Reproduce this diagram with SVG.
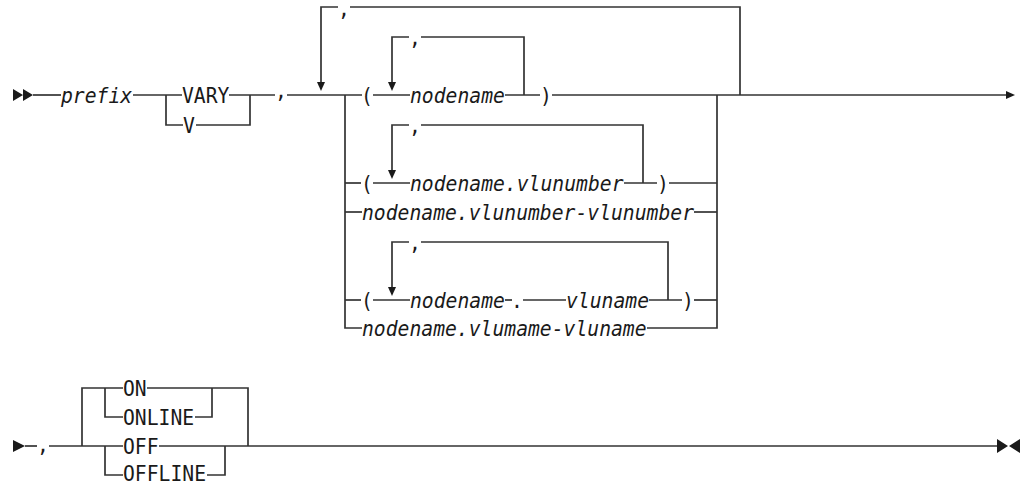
<svg xmlns="http://www.w3.org/2000/svg" width="1023" height="482" viewBox="0 0 1023 482">
<style>
text{font-family:"DejaVu Sans Mono","Liberation Mono",monospace;font-size:21.3px;fill:#1a1a1a}
.i{font-style:italic}
.ln{fill:none;stroke:#333;stroke-width:1.7}
.ar{fill:#1a1a1a}
</style>
<defs>
<marker id="arr" viewBox="0 0 9 8" refX="0" refY="4" markerUnits="userSpaceOnUse" markerWidth="9" markerHeight="8" orient="auto">
<path d="M0,0 L9,4 L0,8 z" fill="#1a1a1a"/>
</marker>
</defs>
<rect width="1023" height="482" fill="#fff"/>
<g id="connectors">
<path class="ln" d="M33,95 H61"/>
<path class="ln" d="M133,95 H182"/>
<path class="ln" d="M229,95 H275"/>
<path class="ln" d="M166,95 V125 H183"/>
<path class="ln" d="M196,125 H250 V95"/>
<path class="ln" d="M287,95 H362"/>
<path class="ln" d="M740,95 V7 H350"/>
<path class="ln" d="M338,7 H321 V82" marker-end="url(#arr)"/>
<path class="ln" d="M345,95 V328 H362"/>
<path class="ln" d="M345,183 H361"/>
<path class="ln" d="M345,212 H362"/>
<path class="ln" d="M345,300 H361"/>
<path class="ln" d="M717,95 V328 H647"/>
<path class="ln" d="M669,183 H717"/>
<path class="ln" d="M694,212 H717"/>
<path class="ln" d="M694,300 H717"/>
<path class="ln" d="M373,95 H410"/>
<path class="ln" d="M505,95 H540"/>
<path class="ln" d="M552,95 H1006" marker-end="url(#arr)"/>
<path class="ln" d="M524,95 V37 H421"/>
<path class="ln" d="M409,37 H392 V82" marker-end="url(#arr)"/>
<path class="ln" d="M373,183 H410"/>
<path class="ln" d="M624,183 H657"/>
<path class="ln" d="M643,183 V125 H421"/>
<path class="ln" d="M409,125 H392 V170" marker-end="url(#arr)"/>
<path class="ln" d="M373,300 H410"/>
<path class="ln" d="M505,300 H512"/>
<path class="ln" d="M523,300 H566"/>
<path class="ln" d="M649,300 H682"/>
<path class="ln" d="M668,300 V242 H421"/>
<path class="ln" d="M409,242 H392 V287" marker-end="url(#arr)"/>
<path class="ar" d="M13,89 L23,95 L13,101 z M23,89 L33,95 L23,101 z"/>
<path class="ar" d="M13,440 L25,446 L13,452 z"/>
<path class="ln" d="M25,446 H37"/>
<path class="ln" d="M49,446 H123"/>
<path class="ln" d="M159,446 H997"/>
<path class="ln" d="M82,446 V388 H123"/>
<path class="ln" d="M147,388 H248 V446"/>
<path class="ln" d="M105,388 V417 H123"/>
<path class="ln" d="M195,417 H212 V388"/>
<path class="ln" d="M105,446 V475 H123"/>
<path class="ln" d="M207,475 H225 V446"/>
<path class="ar" d="M997,439 L1008,446 L997,453 z M1020,439 L1009,446 L1020,453 z"/>
</g>
<g id="n-prefix"><text class="i" x="61" y="102.5" textLength="71.2" lengthAdjust="spacingAndGlyphs">prefix</text></g>
<g id="n-vary"><text x="182" y="102.5" textLength="47.4" lengthAdjust="spacingAndGlyphs">VARY</text></g>
<g id="n-v"><text x="183" y="132.5" textLength="11.9" lengthAdjust="spacingAndGlyphs">V</text></g>
<g id="n-comma1"><text x="275" y="97.5" textLength="11.9" lengthAdjust="spacingAndGlyphs">,</text></g>
<g id="n-comma-loop"><text x="338" y="15.5" textLength="11.9" lengthAdjust="spacingAndGlyphs">,</text></g>
<g id="n-row1">
<text x="361" y="102.5" textLength="11.9" lengthAdjust="spacingAndGlyphs">(</text>
<text x="409" y="45" textLength="11.9" lengthAdjust="spacingAndGlyphs">,</text>
<text class="i" x="410" y="102.5" textLength="94.9" lengthAdjust="spacingAndGlyphs">nodename</text>
<text x="540" y="102.5" textLength="11.9" lengthAdjust="spacingAndGlyphs">)</text>
</g>
<g id="n-row2">
<text x="361" y="190.5" textLength="11.9" lengthAdjust="spacingAndGlyphs">(</text>
<text x="409" y="133" textLength="11.9" lengthAdjust="spacingAndGlyphs">,</text>
<text class="i" x="410" y="190.5" textLength="213.5" lengthAdjust="spacingAndGlyphs">nodename.vlunumber</text>
<text x="657" y="190.5" textLength="11.9" lengthAdjust="spacingAndGlyphs">)</text>
</g>
<g id="n-row3"><text class="i" x="362" y="219.5" textLength="332" lengthAdjust="spacingAndGlyphs">nodename.vlunumber-vlunumber</text></g>
<g id="n-row4">
<text x="361" y="307.5" textLength="11.9" lengthAdjust="spacingAndGlyphs">(</text>
<text x="409" y="250" textLength="11.9" lengthAdjust="spacingAndGlyphs">,</text>
<text class="i" x="410" y="307.5" textLength="94.9" lengthAdjust="spacingAndGlyphs">nodename</text>
<text x="511" y="307.5" textLength="11.9" lengthAdjust="spacingAndGlyphs">.</text>
<text class="i" x="566" y="307.5" textLength="83" lengthAdjust="spacingAndGlyphs">vluname</text>
<text x="682" y="307.5" textLength="11.9" lengthAdjust="spacingAndGlyphs">)</text>
</g>
<g id="n-row5"><text class="i" x="362" y="335.5" textLength="284.6" lengthAdjust="spacingAndGlyphs">nodename.vlumame-vluname</text></g>
<g id="n-comma2"><text x="37" y="451.5" textLength="11.9" lengthAdjust="spacingAndGlyphs">,</text></g>
<g id="n-on"><text x="123" y="395.5" textLength="23.7" lengthAdjust="spacingAndGlyphs">ON</text></g>
<g id="n-online"><text x="123" y="424.5" textLength="71.2" lengthAdjust="spacingAndGlyphs">ONLINE</text></g>
<g id="n-off"><text x="123" y="453.5" textLength="35.6" lengthAdjust="spacingAndGlyphs">OFF</text></g>
<g id="n-offline"><text x="123" y="481" textLength="83" lengthAdjust="spacingAndGlyphs">OFFLINE</text></g>
</svg>
